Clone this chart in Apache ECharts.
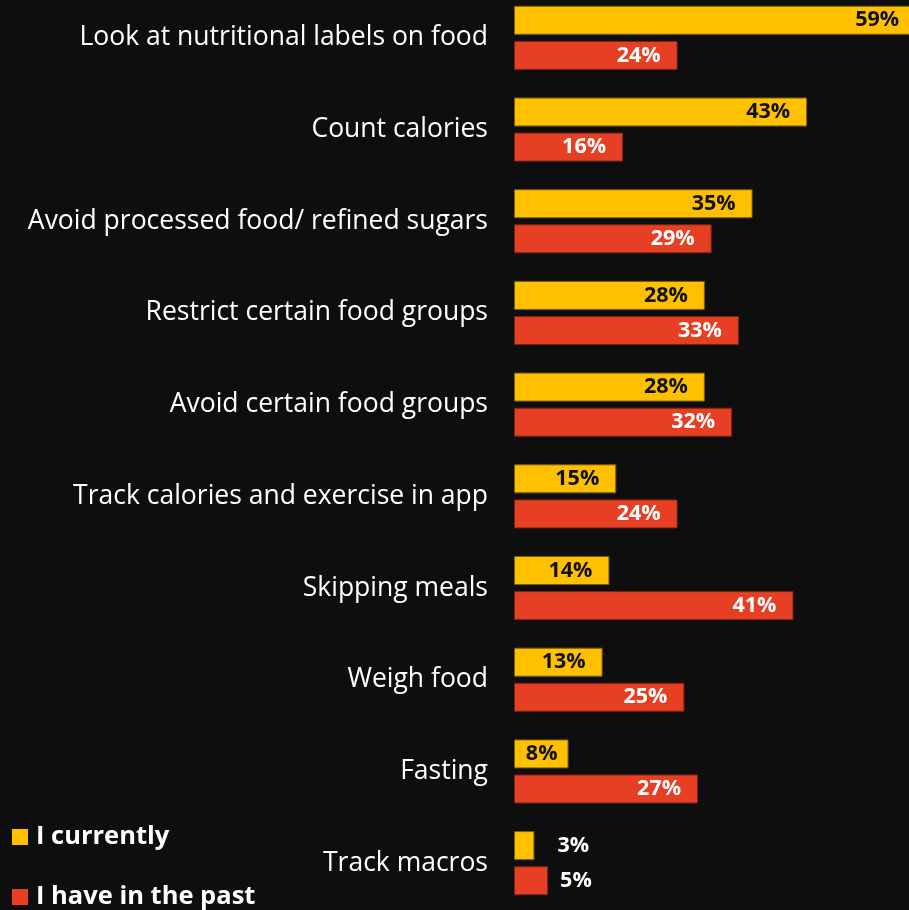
<!DOCTYPE html>
<html>
<head>
<meta charset="utf-8">
<script src="https://cdn.jsdelivr.net/npm/echarts@6/dist/echarts.min.js"></script>
<style>
  html, body { margin: 0; padding: 0; background: #0e0e0e; overflow: hidden; width: 909px; height: 910px; }
  /* canvas slightly larger than the page so the top row and the longest bar run past the edges */
  #chart { position: absolute; left: 0; top: -8px; width: 940px; height: 926px; }
</style>
</head>
<body>
<div id="chart"></div>
<script>
const categories = [
  'Look at nutritional labels on food',
  'Count calories',
  'Avoid processed food/ refined sugars',
  'Restrict certain food groups',
  'Avoid certain food groups',
  'Track calories and exercise in app',
  'Skipping meals',
  'Weigh food',
  'Fasting',
  'Track macros'
];
const currently = [59, 43, 35, 28, 28, 15, 14, 13, 8, 3];
const inThePast = [24, 16, 29, 33, 32, 24, 41, 25, 27, 5];
const seriesNames = ['I currently', 'I have in the past'];

const YELLOW = '#FFC000';
const RED = '#E63F23';
const FONT = '"Open Sans", "Noto Sans", sans-serif';

// Short bars carry their value outside the bar, in white;
// narrow bars keep the label inside but closer to the end
function toItems(values, outsideDistance) {
  return values.map(v => {
    if (v < 8) {
      return {
        value: v,
        label: { position: 'right', color: '#ffffff', distance: outsideDistance }
      };
    }
    if (v < 10) {
      return { value: v, label: { distance: 11 } };
    }
    return v;
  });
}

function legendFor(name, top) {
  return {
    orient: 'vertical',
    left: 12, top: top,
    padding: 0,
    itemWidth: 16, itemHeight: 16,
    icon: 'rect',
    itemStyle: { borderWidth: 0 },
    textStyle: {
      color: '#ffffff', fontSize: 25.5, fontWeight: 'bold', fontFamily: FONT,
      lineHeight: 30, padding: [0, 0, 0, 3]
    },
    data: [name]
  };
}

const chart = echarts.init(document.getElementById('chart'), null, { renderer: 'canvas' });
chart.setOption({
  backgroundColor: '#0e0e0e',
  animation: false,
  textStyle: { fontFamily: FONT },
  grid: { left: 514, top: 0, width: 409, height: 917, containLabel: false },
  xAxis: {
    type: 'value', min: 0, max: 60,
    show: false
  },
  yAxis: {
    type: 'category',
    data: categories,
    inverse: true,
    axisLine: { show: false },
    axisTick: { show: false },
    splitLine: { show: false },
    axisLabel: {
      color: '#ffffff', fontSize: 26.5, fontFamily: FONT, margin: 26,
      padding: [3, 0, 0, 0]
    }
  },
  legend: [legendFor(seriesNames[0], 830), legendFor(seriesNames[1], 890)],
  series: [
    {
      name: seriesNames[0],
      type: 'bar',
      data: toItems(currently, 23),
      barWidth: 29,
      barGap: '21%',
      itemStyle: { color: YELLOW, borderColor: '#7a5d00', borderWidth: 1 },
      label: {
        show: true, position: 'insideRight', distance: 17,
        formatter: '{c}%', color: '#111111', fontSize: 21.5, fontWeight: 'bold', fontFamily: FONT
      }
    },
    {
      name: seriesNames[1],
      type: 'bar',
      data: toItems(inThePast, 12),
      barWidth: 29,
      itemStyle: { color: RED, borderColor: '#7a2414', borderWidth: 1 },
      label: {
        show: true, position: 'insideRight', distance: 17,
        formatter: '{c}%', color: '#ffffff', fontSize: 21.5, fontWeight: 'bold', fontFamily: FONT
      }
    }
  ]
});
</script>
</body>
</html>
